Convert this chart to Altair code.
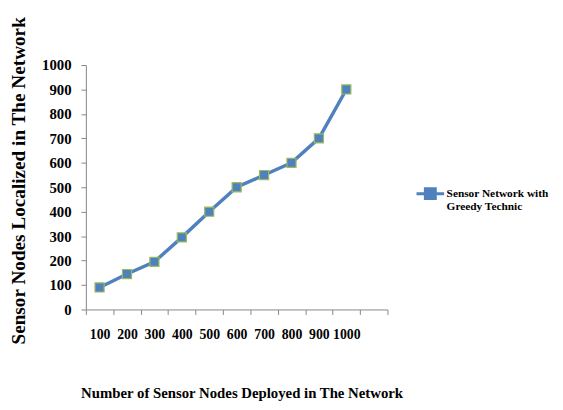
import altair as alt
import pandas as pd

# ---- data ----
categories = ["100", "200", "300", "400", "500", "600", "700", "800", "900", "1000"]
values = [90, 145, 195, 295, 400, 500, 550, 600, 700, 900]
series_name = "Sensor Network with Greedy Technic"
label_lines = ["Sensor Network with", "Greedy Technic"]
x_domain = categories + [" "]  # an empty 11th category as in the reference
y_ticks = [0, 100, 200, 300, 400, 500, 600, 700, 800, 900, 1000]

df = pd.DataFrame({
    "nodes": categories,
    "localized": values,
    "series": [series_name] * len(categories),
})

FONT = "Liberation Serif"
BLUE = "#4F81BD"
GREEN = "#9BBB59"
AXIS = "#868686"

x_enc = alt.X(
    "nodes:O",
    sort=x_domain,
    scale=alt.Scale(type="band", domain=x_domain, paddingInner=0, paddingOuter=0),
    axis=alt.Axis(
        title="Number of Sensor Nodes Deployed in The Network",
        labelAngle=0,
        tickBand="extent",
        tickSize=5,
        tickColor=AXIS,
        domainColor=AXIS,
        labelPadding=13,
        labelFont=FONT,
        labelFontSize=14,
        labelFontWeight="bold",
        labelColor="black",
        titleFont=FONT,
        titleFontSize=15,
        titleFontWeight="bold",
        titleColor="black",
        titleX=158,
        titleY=84,
        titleAlign="center",
        titleBaseline="middle",
    ),
)

y_enc = alt.Y(
    "localized:Q",
    scale=alt.Scale(domain=[0, 1000], nice=False),
    axis=alt.Axis(
        title="Sensor Nodes Localized in The  Network",
        values=y_ticks,
        format="d",
        grid=False,
        tickSize=5,
        tickColor=AXIS,
        domainColor=AXIS,
        labelPadding=10,
        labelFont=FONT,
        labelFontSize=15,
        labelFontWeight="bold",
        labelColor="black",
        titleFont=FONT,
        titleFontSize=19.5,
        titleFontWeight="bold",
        titleColor="black",
        titleAngle=270,
        titleX=-68,
        titleY=117,
        titleAlign="center",
        titleBaseline="middle",
    ),
)

color_enc = alt.Color(
    "series:N",
    scale=alt.Scale(domain=[series_name], range=[BLUE]),
    legend=alt.Legend(
        title=None,
        orient="none",
        legendX=334,
        legendY=115,
        symbolType="M-1,0H1M-0.36,-0.36H0.36V0.36H-0.36Z",
        symbolSize=784,
        symbolStrokeWidth=3,
        symbolFillColor=BLUE,
        symbolStrokeColor=BLUE,
        labelExpr="['" + label_lines[0] + "', '" + label_lines[1] + "']",
        labelFont=FONT,
        labelFontSize=11.5,
        labelFontWeight="bold",
        labelColor="black",
        labelOffset=1,
        labelLimit=300,
    ),
)

base = alt.Chart(df)

line = base.mark_line(strokeWidth=3.5).encode(x=x_enc, y=y_enc, color=color_enc)
points = base.mark_point(
    shape="square", filled=True, size=85, stroke=GREEN, strokeWidth=1.2, opacity=1
).encode(
    x=x_enc,
    y=y_enc,
    fill=alt.Fill("series:N", scale=alt.Scale(domain=[series_name], range=[BLUE]), legend=None),
)

chart = (
    alt.layer(line, points)
    .properties(
        width=306,
        height=248,
        autosize=alt.AutoSizeParams(type="none"),
        padding={"left": 79, "top": 55, "right": 170, "bottom": 91},
        background="white",
    )
    .configure_view(stroke=None)
)

chart.save("out.html", embed_options={"renderer": "svg", "actions": False})
